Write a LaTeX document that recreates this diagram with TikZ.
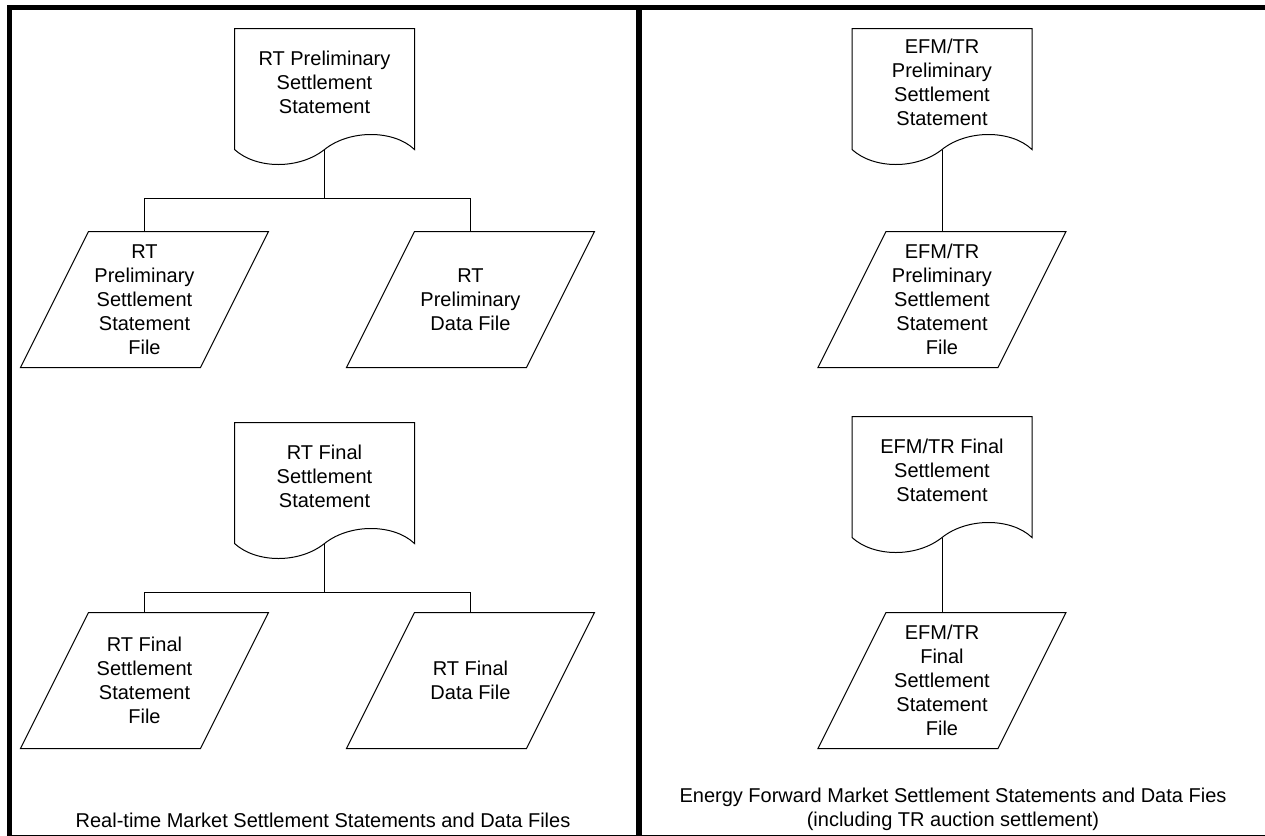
\documentclass[tikz,border=0pt]{standalone}
\usepackage{fontspec}
\setmainfont{Liberation Sans}
\usetikzlibrary{calc}

\begin{document}
\begin{tikzpicture}[x=0.5pt,y=-0.5pt,
  line width=0.5pt,
  font=\fontsize{10}{12}\selectfont,
  doc/.style={
    rectangle,
    minimum width=89.5pt,
    minimum height=53pt,
    inner sep=0pt,
    align=center},
  fil/.style={
    rectangle,
    minimum width=89.5pt,
    minimum height=67.5pt,
    inner sep=0pt,
    align=center},
  frame/.style={line width=2.5pt}]
  \useasboundingbox (0,0) rectangle (1265,836);
  % draw statement nodes
  \node[doc] (pre) at (324.5,82) {RT Preliminary\\Settlement\\Statement};
  \node[doc] (fin) at (324.5,476) {RT Final\\Settlement\\Statement};
  \node[doc] (epre) at (942,82) {EFM/TR\\Preliminary\\Settlement\\Statement};
  \node[doc] (efin) at (942,470) {EFM/TR Final\\Settlement\\Statement};
  % draw file nodes
  \node[fil] (prs) at (144.5,299.5) {RT\\Preliminary\\Settlement\\Statement\\File};
  \node[fil] (prd) at (470.5,299.5) {RT\\Preliminary\\Data File};
  \node[fil] (fis) at (144.5,680.5) {RT Final\\Settlement\\Statement\\File};
  \node[fil] (fid) at (470.5,680.5) {RT Final\\Data File};
  \node[fil] (eprs) at (942,299.5) {EFM/TR\\Preliminary\\Settlement\\Statement\\File};
  \node[fil] (efis) at (942,680.5) {EFM/TR\\Final\\Settlement\\Statement\\File};
  % draw document outlines with wavy bottom
  \foreach \d in {pre,fin,epre,efin} {
    \draw (\d.north west) -- ($(\d.south west)+(0,14)$)
      .. controls +(22,20) and +(-25,20) .. ($(\d.south)+(0,14)$) coordinate (\d-w)
      .. controls +(25,-20) and +(-21,-20) .. ($(\d.south east)+(0,14)$)
      -- (\d.north east) -- cycle;
  }
  % draw slanted file outlines
  \foreach \f in {prs,prd,fis,fid,eprs,efis} {
    \draw ($(\f.north west)+(34,0)$) -- ($(\f.north east)+(34,0)$)
      -- ($(\f.south east)+(-34,0)$) -- ($(\f.south west)+(-34,0)$) -- cycle;
  }
  % draw links from statements to files
  \draw (pre-w) -- ++(0,49) -| (prs.north);
  \draw (pre-w) ++(0,49) -| (prd.north);
  \draw (fin-w) -- ++(0,49) -| (fis.north);
  \draw (fin-w) ++(0,49) -| (fid.north);
  \draw (epre-w) -- (eprs.north);
  \draw (efin-w) -- (efis.north);
  % draw captions
  \node (rtcap) at (323,820) {Real-time Market Settlement Statements and Data Files};
  \node[align=center] (efmcap) at (953,809) {Energy Forward Market Settlement Statements and Data Fies\\(including TR auction settlement)};
  % draw frame
  \draw[frame] (7,7.5) -- (1265,7.5);
  \draw[frame] (9.5,5) -- (9.5,836);
  \draw[line width=3pt] (639,5) -- (639,836);
  \draw (7,835.5) -- (1265,835.5);
\end{tikzpicture}
\end{document}
